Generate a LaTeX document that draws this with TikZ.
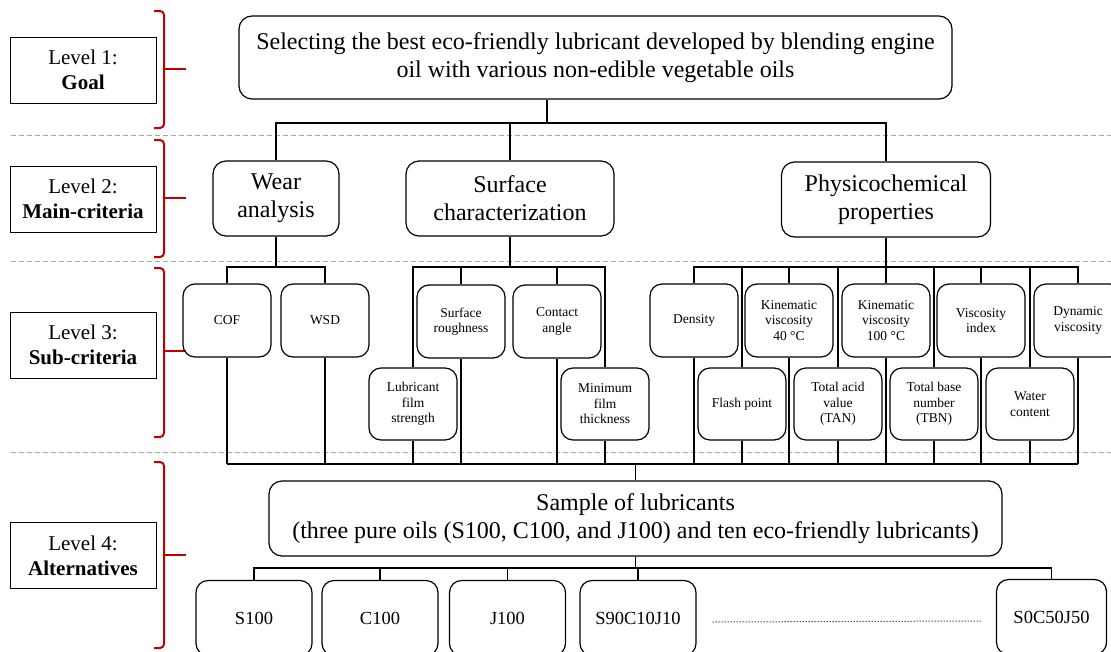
\documentclass[tikz,border=0pt]{standalone}
\usepackage{fontspec}
\setmainfont{LiberationSerif}[Extension=.ttf, UprightFont=*-Regular,
  BoldFont=*-Bold, ItalicFont=*-Italic, BoldItalicFont=*-BoldItalic]
\definecolor{bracered}{HTML}{C00000}
\tikzset{
  levelbox/.style={draw, line width=1pt, minimum width=146pt, minimum height=66pt,
    inner sep=0pt, align=center, font=\fontsize{21}{25}\selectfont},
  mainbox/.style={draw, line width=1.2pt, rounded corners=13pt, inner sep=0pt,
    align=center, font=\fontsize{24}{28}\selectfont},
  subbox/.style={draw, line width=1.2pt, rounded corners=12pt, minimum width=88pt,
    minimum height=73pt, inner sep=0pt, align=center, font=\fontsize{13.5}{15.5}\selectfont},
  altbox/.style={draw, line width=1.2pt, rounded corners=12pt, minimum width=116pt,
    minimum height=75pt, inner sep=0pt, font=\fontsize{18.5}{22}\selectfont},
  link/.style={line width=1.2pt},
  levelline/.style={draw=gray!70, line width=1pt, dash pattern=on 5pt off 3pt},
  brace/.style={draw=bracered, line width=2pt, rounded corners=4pt}
}
\begin{document}
\begin{tikzpicture}[x=1pt, y=-1pt]
\useasboundingbox[fill=white] (0,0) rectangle (1111,651);

% level labels and braces
\node[levelbox] (lvl1) at (83,70) {Level 1:\\\textbf{Goal}};
\node[levelbox] (lvl2) at (83,199) {Level 2:\\\textbf{Main-criteria}};
\node[levelbox] (lvl3) at (83,345) {Level 3:\\\textbf{Sub-criteria}};
\node[levelbox] (lvl4) at (83,555.5) {Level 4:\\\textbf{Alternatives}};
\foreach \ya/\ym/\yb in {11/69/128, 140/198/257, 268/351/437, 462/555/648}{
  \draw[brace] (154,\ya) -| (164,\yb) -- (154,\yb);
  \draw[brace] (164,\ym) -- (186,\ym);
}
\foreach \y in {135, 261, 452}
  \draw[levelline] (11,\y) -- (1111,\y);

% goal and main criteria
\node[mainbox, minimum width=713pt, minimum height=83pt] (goal) at (595.5,57.5)
  {Selecting the best eco-friendly lubricant developed by blending engine\\oil with various non-edible vegetable oils};
\node[mainbox, minimum width=126pt, minimum height=75pt] (wear) at (276,198.5) {Wear\\analysis};
\node[mainbox, minimum width=208pt, minimum height=75pt] (surf) at (510,198.5) {Surface\\characterization};
\node[mainbox, minimum width=209pt, minimum height=75pt] (phys) at (886,199.5) {Physicochemical\\properties};

% sub-criteria
\node[subbox] (cof) at (227,320.5) {COF};
\node[subbox] (wsd) at (325,320.5) {WSD};
\node[subbox] (rough) at (461,321.5) {Surface\\roughness};
\node[subbox] (angle) at (557,321.5) {Contact\\angle};
\node[subbox, minimum height=72pt] (film) at (413,404) {Lubricant\\film\\strength};
\node[subbox, minimum height=72pt] (thick) at (605,404) {Minimum\\film\\thickness};
\node[subbox] (dens) at (694,320.5) {Density};
\node[subbox] (kv40) at (789,320.5) {Kinematic\\viscosity\\40 °C};
\node[subbox] (kv100) at (886,320.5) {Kinematic\\viscosity\\100 °C};
\node[subbox] (vi) at (981,320.5) {Viscosity\\index};
\node[subbox] (dyn) at (1078,320.5) {Dynamic\\viscosity};
\node[subbox, minimum height=72pt] (flash) at (742,404) {Flash point};
\node[subbox, minimum height=72pt] (tan) at (838,404) {Total acid\\value\\(TAN)};
\node[subbox, minimum height=72pt] (tbn) at (934,404) {Total base\\number\\(TBN)};
\node[subbox, minimum height=72pt] (water) at (1030,404) {Water\\content};

% alternatives
\node[mainbox, minimum width=733pt, minimum height=75pt] (sample) at (635.5,518.5)
  {Sample of lubricants\\(three pure oils (S100, C100, and J100) and ten eco-friendly lubricants)};
\node[altbox] (s100) at (254,618) {S100};
\node[altbox] (c100) at (380,618) {C100};
\node[altbox] (j100) at (507.5,618) {J100};
\node[altbox] (s90) at (638,618) {S90C10J10};
\node[altbox, minimum width=110pt] (s0) at (1051.5,617) {S0C50J50};
\draw[dotted, line width=1pt] ([shift={(16,4)}]s90.east) -- ([shift={(-15,4)}]s0.west);

% connectors
\coordinate (busA) at (547,123);
\coordinate (busB) at (0,267);
\coordinate (busC) at (0,464);
\coordinate (busD) at (0,568);
\draw[line width=2pt] (busA |- goal.south) -- (busA);
\draw[link] (wear.north) |- (phys.north |- busA) -- (phys.north);
\draw[link] (surf.north) -- (surf.north |- busA);

\draw[link] (wear.south) -- (wear.south |- busB);
\draw[link] (cof.north) |- (wsd.north |- busB) -- (wsd.north);
\draw[link] (surf.south) -- (surf.south |- busB);
\draw[link] (film.north) |- (thick.north |- busB) -- (thick.north);
\draw[link] (phys.south) -- (phys.south |- busB);
\draw[link] (dens.north) |- (dyn.north |- busB) -- (dyn.north);
\foreach \n in {rough, angle, kv40, kv100, vi, flash, tan, tbn, water}
  \draw[link] (\n.north) -- (\n.north |- busB);

\draw[link] (cof.south |- busC) -- (dyn.south |- busC);
\foreach \n in {cof, wsd, film, rough, angle, thick, dens, flash, kv40, tan, kv100, tbn, vi, water, dyn}
  \draw[link] (\n.south) -- (\n.south |- busC);
\draw[link] (sample.north) -- (sample.north |- busC);

\draw[link] (sample.south) -- (sample.south |- busD);
\draw[link] (s100.north) |- (s0.north |- busD) -- (s0.north);
\foreach \n in {c100, j100, s90}
  \draw[link] (\n.north) -- (\n.north |- busD);
\end{tikzpicture}
\end{document}
